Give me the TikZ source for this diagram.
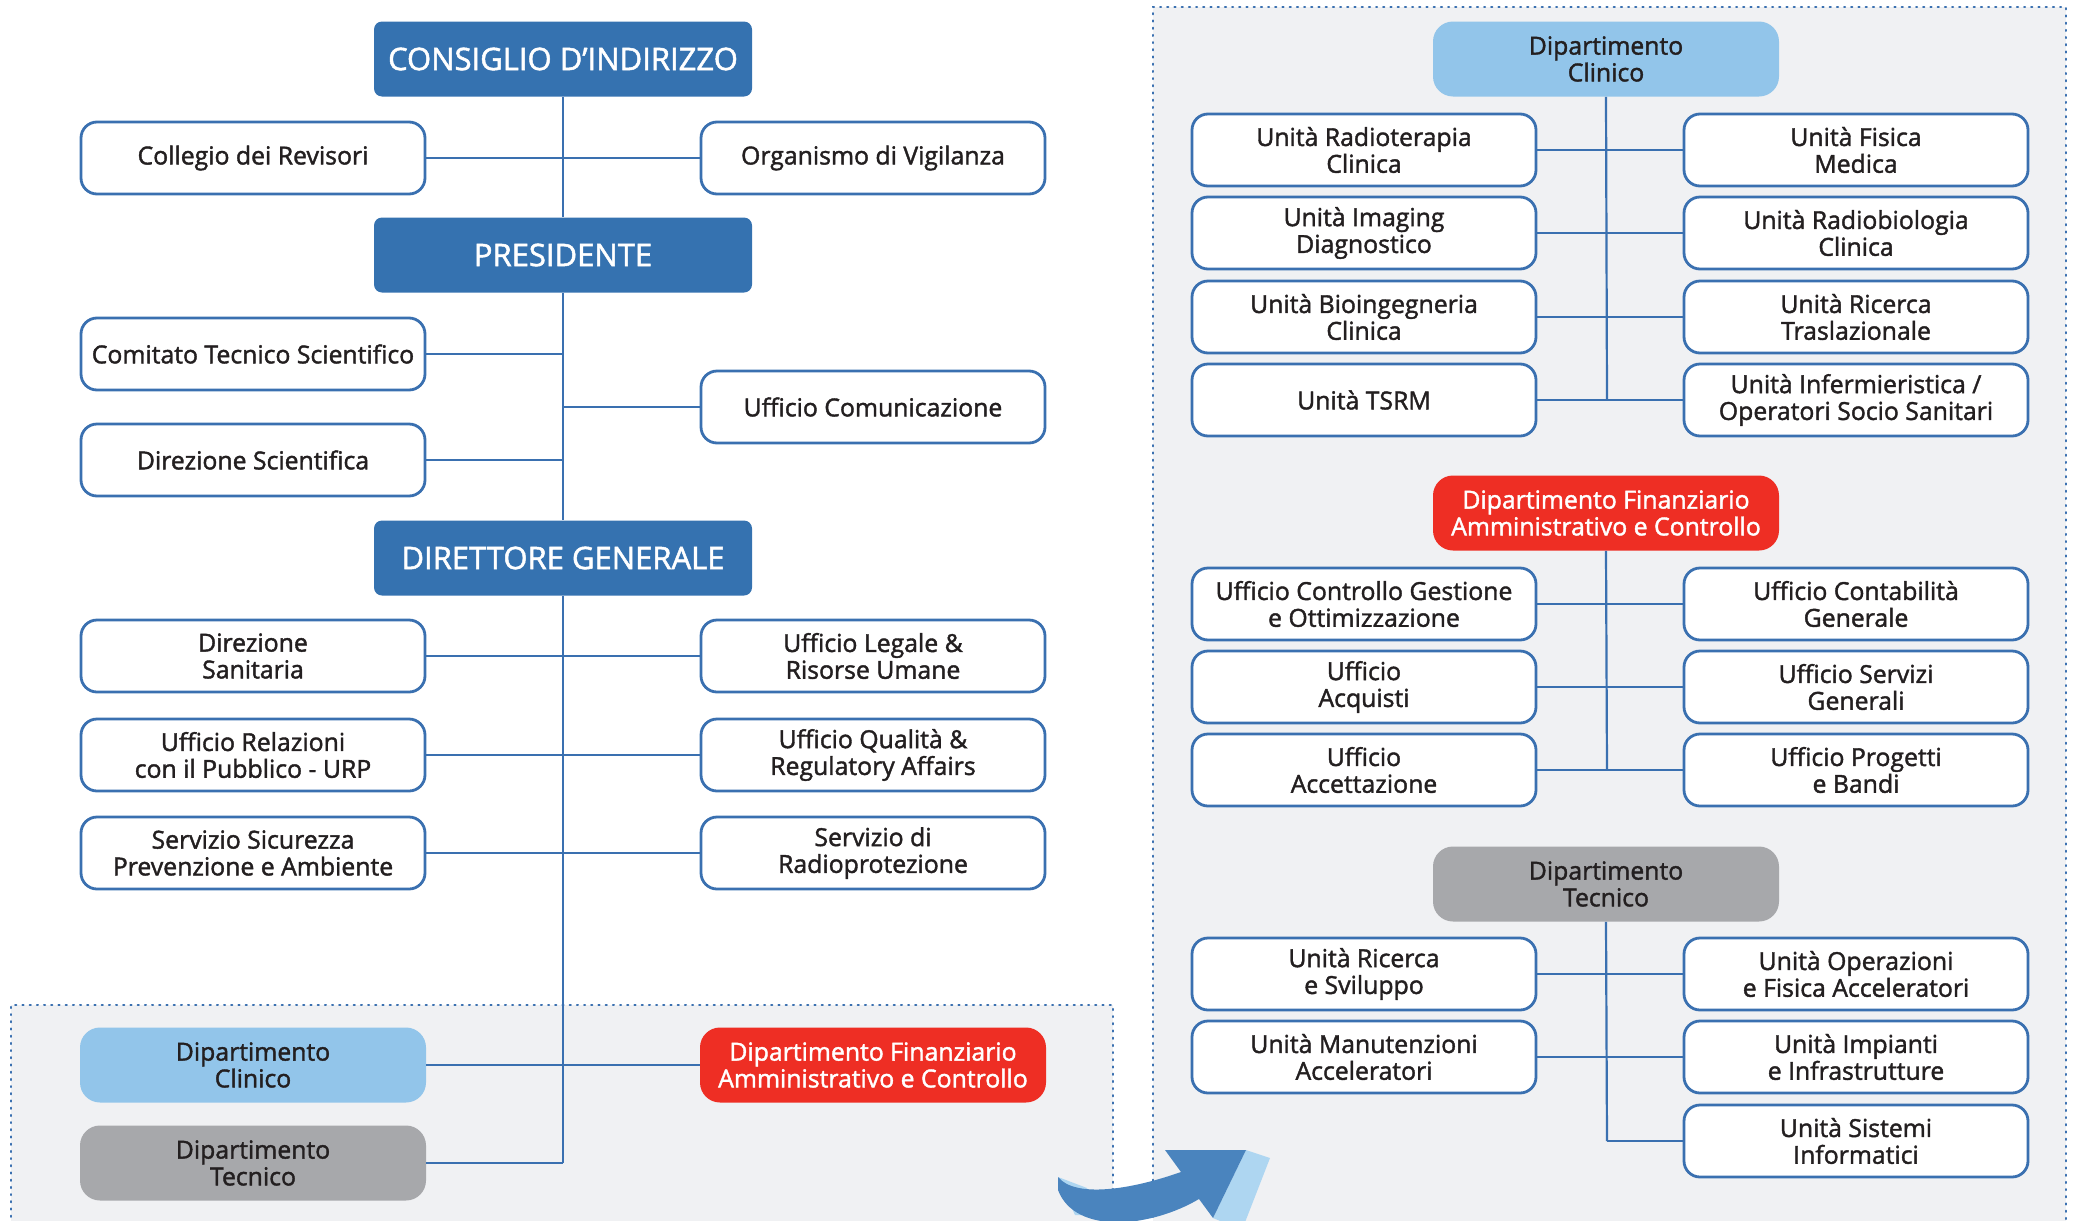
\documentclass[tikz,border=0pt]{standalone}
\usepackage{fontspec}
\setmainfont{Open Sans}[FakeBold=1.6]
\definecolor{lineblue}{HTML}{3A70B0}
\definecolor{headblue}{HTML}{3572B0}
\definecolor{lightblue}{HTML}{92C5EA}
\definecolor{deptgray}{HTML}{A7A8AB}
\definecolor{deptred}{HTML}{EE2E24}
\definecolor{panelgray}{HTML}{F0F1F3}
\definecolor{txt}{HTML}{231F20}
\definecolor{arrowblue}{HTML}{4A84BE}
\definecolor{arrowlight}{HTML}{AED6F1}
\tikzset{
  unitbox/.style={draw=lineblue, line width=1.4pt, fill=white, rounded corners=8pt,
    minimum width=172pt, minimum height=36pt, align=center, inner sep=2pt,
    font=\fontsize{12.4}{13.4}\selectfont, text=txt},
  headbox/.style={fill=headblue, rounded corners=4pt, minimum width=189pt, minimum height=37.5pt,
    align=center, font=\fontsize{15.5}{17}\selectfont, text=white},
  deptbox/.style={rounded corners=10pt, minimum width=173pt, minimum height=37.5pt,
    align=center, inner sep=2pt, font=\fontsize{12.4}{13.4}\selectfont},
  conn/.style={draw=lineblue, line width=1.1pt},
  panel/.style={fill=panelgray, draw=lineblue, line width=1pt, dash pattern=on 0.6pt off 3pt, line cap=round},
}
\begin{document}
\begin{tikzpicture}[x=0.5pt,y=-0.5pt]
\useasboundingbox (0,0) rectangle (2073,1221);
\clip (0,0) rectangle (2073,1221);
% panels
\path[panel] (11,1260) -- (11,1005) -- (1113,1005) -- (1113,1260);
\path[panel] (1153,1260) -- (1153,7) -- (2066,7) -- (2066,1260);

% ===== left panel =====
\node[headbox] (cons) at (563,59) {CONSIGLIO D’INDIRIZZO};
\node[headbox] (pres) at (563,255) {PRESIDENTE};
\node[headbox] (dg) at (563,558) {DIRETTORE GENERALE};
\coordinate (t1) at (563,158);
\coordinate (t2) at (563,354);
\coordinate (t3) at (563,407);
\coordinate (t4) at (563,460);
\coordinate (t5) at (563,1163);

\draw[conn] (cons.south) -- (pres.north);
\draw[conn] (pres.south) -- (dg.north);
\draw[conn] (dg.south) -- (t5);

\node[unitbox] (coll) at (253,158) {Collegio dei Revisori};
\node[unitbox] (org) at (873,158) {Organismo di Vigilanza};
\draw[conn] (coll.east) -- (org.west);

\node[unitbox] (cts) at (253,354) {Comitato Tecnico Scientifico};
\node[unitbox] (ucom) at (873,407) {Ufficio Comunicazione};
\node[unitbox] (dsci) at (253,460) {Direzione Scientifica};
\draw[conn] (cts.east) -- (t2);
\draw[conn] (ucom.west) -- (t3);
\draw[conn] (dsci.east) -- (t4);

\node[unitbox] (dsan) at (253,656) {Direzione\\Sanitaria};
\node[unitbox] (uleg) at (873,656) {Ufficio Legale \&\\Risorse Umane};
\node[unitbox] (urp) at (253,755) {Ufficio Relazioni\\con il Pubblico - URP};
\node[unitbox] (uqual) at (873,755) {Ufficio Qualità \&\\Regulatory Affairs};
\node[unitbox] (ssic) at (253,853) {Servizio Sicurezza\\Prevenzione e Ambiente};
\node[unitbox] (rad) at (873,853) {Servizio di\\Radioprotezione};
\draw[conn] (dsan.east) -- (uleg.west);
\draw[conn] (urp.east) -- (uqual.west);
\draw[conn] (ssic.east) -- (rad.west);

\node[deptbox, fill=lightblue, text=txt] (dcl) at (253,1065) {Dipartimento\\Clinico};
\node[deptbox, fill=deptred, text=white] (dfin) at (873,1065) {Dipartimento Finanziario\\Amministrativo e Controllo};
\node[deptbox, fill=deptgray, text=txt] (dtec) at (253,1163) {Dipartimento\\Tecnico};
\draw[conn] (dcl.east) -- (dfin.west);
\draw[conn] (t5) -- (dtec.east);

% ===== right panel =====
% Clinico
\node[deptbox, fill=lightblue, text=txt] (rdcl) at (1606,59) {Dipartimento\\Clinico};
\coordinate (c4) at (1607,400);
\draw[conn] (rdcl.south) -- (c4);
\node[unitbox] (ra1) at (1364,150) {Unità Radioterapia\\Clinica};
\node[unitbox] (rb1) at (1856,150) {Unità Fisica\\Medica};
\node[unitbox] (ra2) at (1364,233) {Unità Imaging\\Diagnostico};
\node[unitbox] (rb2) at (1856,233) {Unità Radiobiologia\\Clinica};
\node[unitbox] (ra3) at (1364,317) {Unità Bioingegneria\\Clinica};
\node[unitbox] (rb3) at (1856,317) {Unità Ricerca\\Traslazionale};
\node[unitbox] (ra4) at (1364,400) {Unità TSRM};
\node[unitbox] (rb4) at (1856,400) {Unità Infermieristica /\\Operatori Socio Sanitari};
\draw[conn] (ra1.east) -- (rb1.west);
\draw[conn] (ra2.east) -- (rb2.west);
\draw[conn] (ra3.east) -- (rb3.west);
\draw[conn] (ra4.east) -- (rb4.west);

% Finanziario
\node[deptbox, fill=deptred, text=white] (rdfin) at (1606,513) {Dipartimento Finanziario\\Amministrativo e Controllo};
\coordinate (f3) at (1607,770);
\draw[conn] (rdfin.south) -- (f3);
\node[unitbox] (fa1) at (1364,604) {Ufficio Controllo Gestione\\e Ottimizzazione};
\node[unitbox] (fb1) at (1856,604) {Ufficio Contabilità\\Generale};
\node[unitbox] (fa2) at (1364,687) {Ufficio\\Acquisti};
\node[unitbox] (fb2) at (1856,687) {Ufficio Servizi\\Generali};
\node[unitbox] (fa3) at (1364,770) {Ufficio\\Accettazione};
\node[unitbox] (fb3) at (1856,770) {Ufficio Progetti\\e Bandi};
\draw[conn] (fa1.east) -- (fb1.west);
\draw[conn] (fa2.east) -- (fb2.west);
\draw[conn] (fa3.east) -- (fb3.west);

% Tecnico
\node[deptbox, fill=deptgray, text=txt] (rdtec) at (1606,884) {Dipartimento\\Tecnico};
\coordinate (e3) at (1607,1141);
\draw[conn] (rdtec.south) -- (e3);
\node[unitbox] (ea1) at (1364,974) {Unità Ricerca\\e Sviluppo};
\node[unitbox] (eb1) at (1856,974) {Unità Operazioni\\e Fisica Acceleratori};
\node[unitbox] (ea2) at (1364,1057) {Unità Manutenzioni\\Acceleratori};
\node[unitbox] (eb2) at (1856,1057) {Unità Impianti\\e Infrastrutture};
\node[unitbox] (eb3) at (1856,1141) {Unità Sistemi\\Informatici};
\draw[conn] (ea1.east) -- (eb1.west);
\draw[conn] (ea2.east) -- (eb2.west);
\draw[conn] (e3) -- (eb3.west);

% ===== curved arrow =====
\fill[arrowlight] (1246,1150) -- (1270,1158) -- (1242,1230) -- (1213,1218) -- cycle;
\fill[arrowlight] (1058,1177) -- (1087,1188) -- (1100,1215) -- (1075,1215) -- cycle;
\fill[arrowblue] (1058,1177) .. controls (1075,1198) and (1130,1190) .. (1181,1172)
  -- (1165,1150) -- (1246,1150) -- (1213,1218) -- (1199,1199)
  .. controls (1150,1228) and (1075,1235) .. (1058,1190) -- cycle;
\end{tikzpicture}
\end{document}
